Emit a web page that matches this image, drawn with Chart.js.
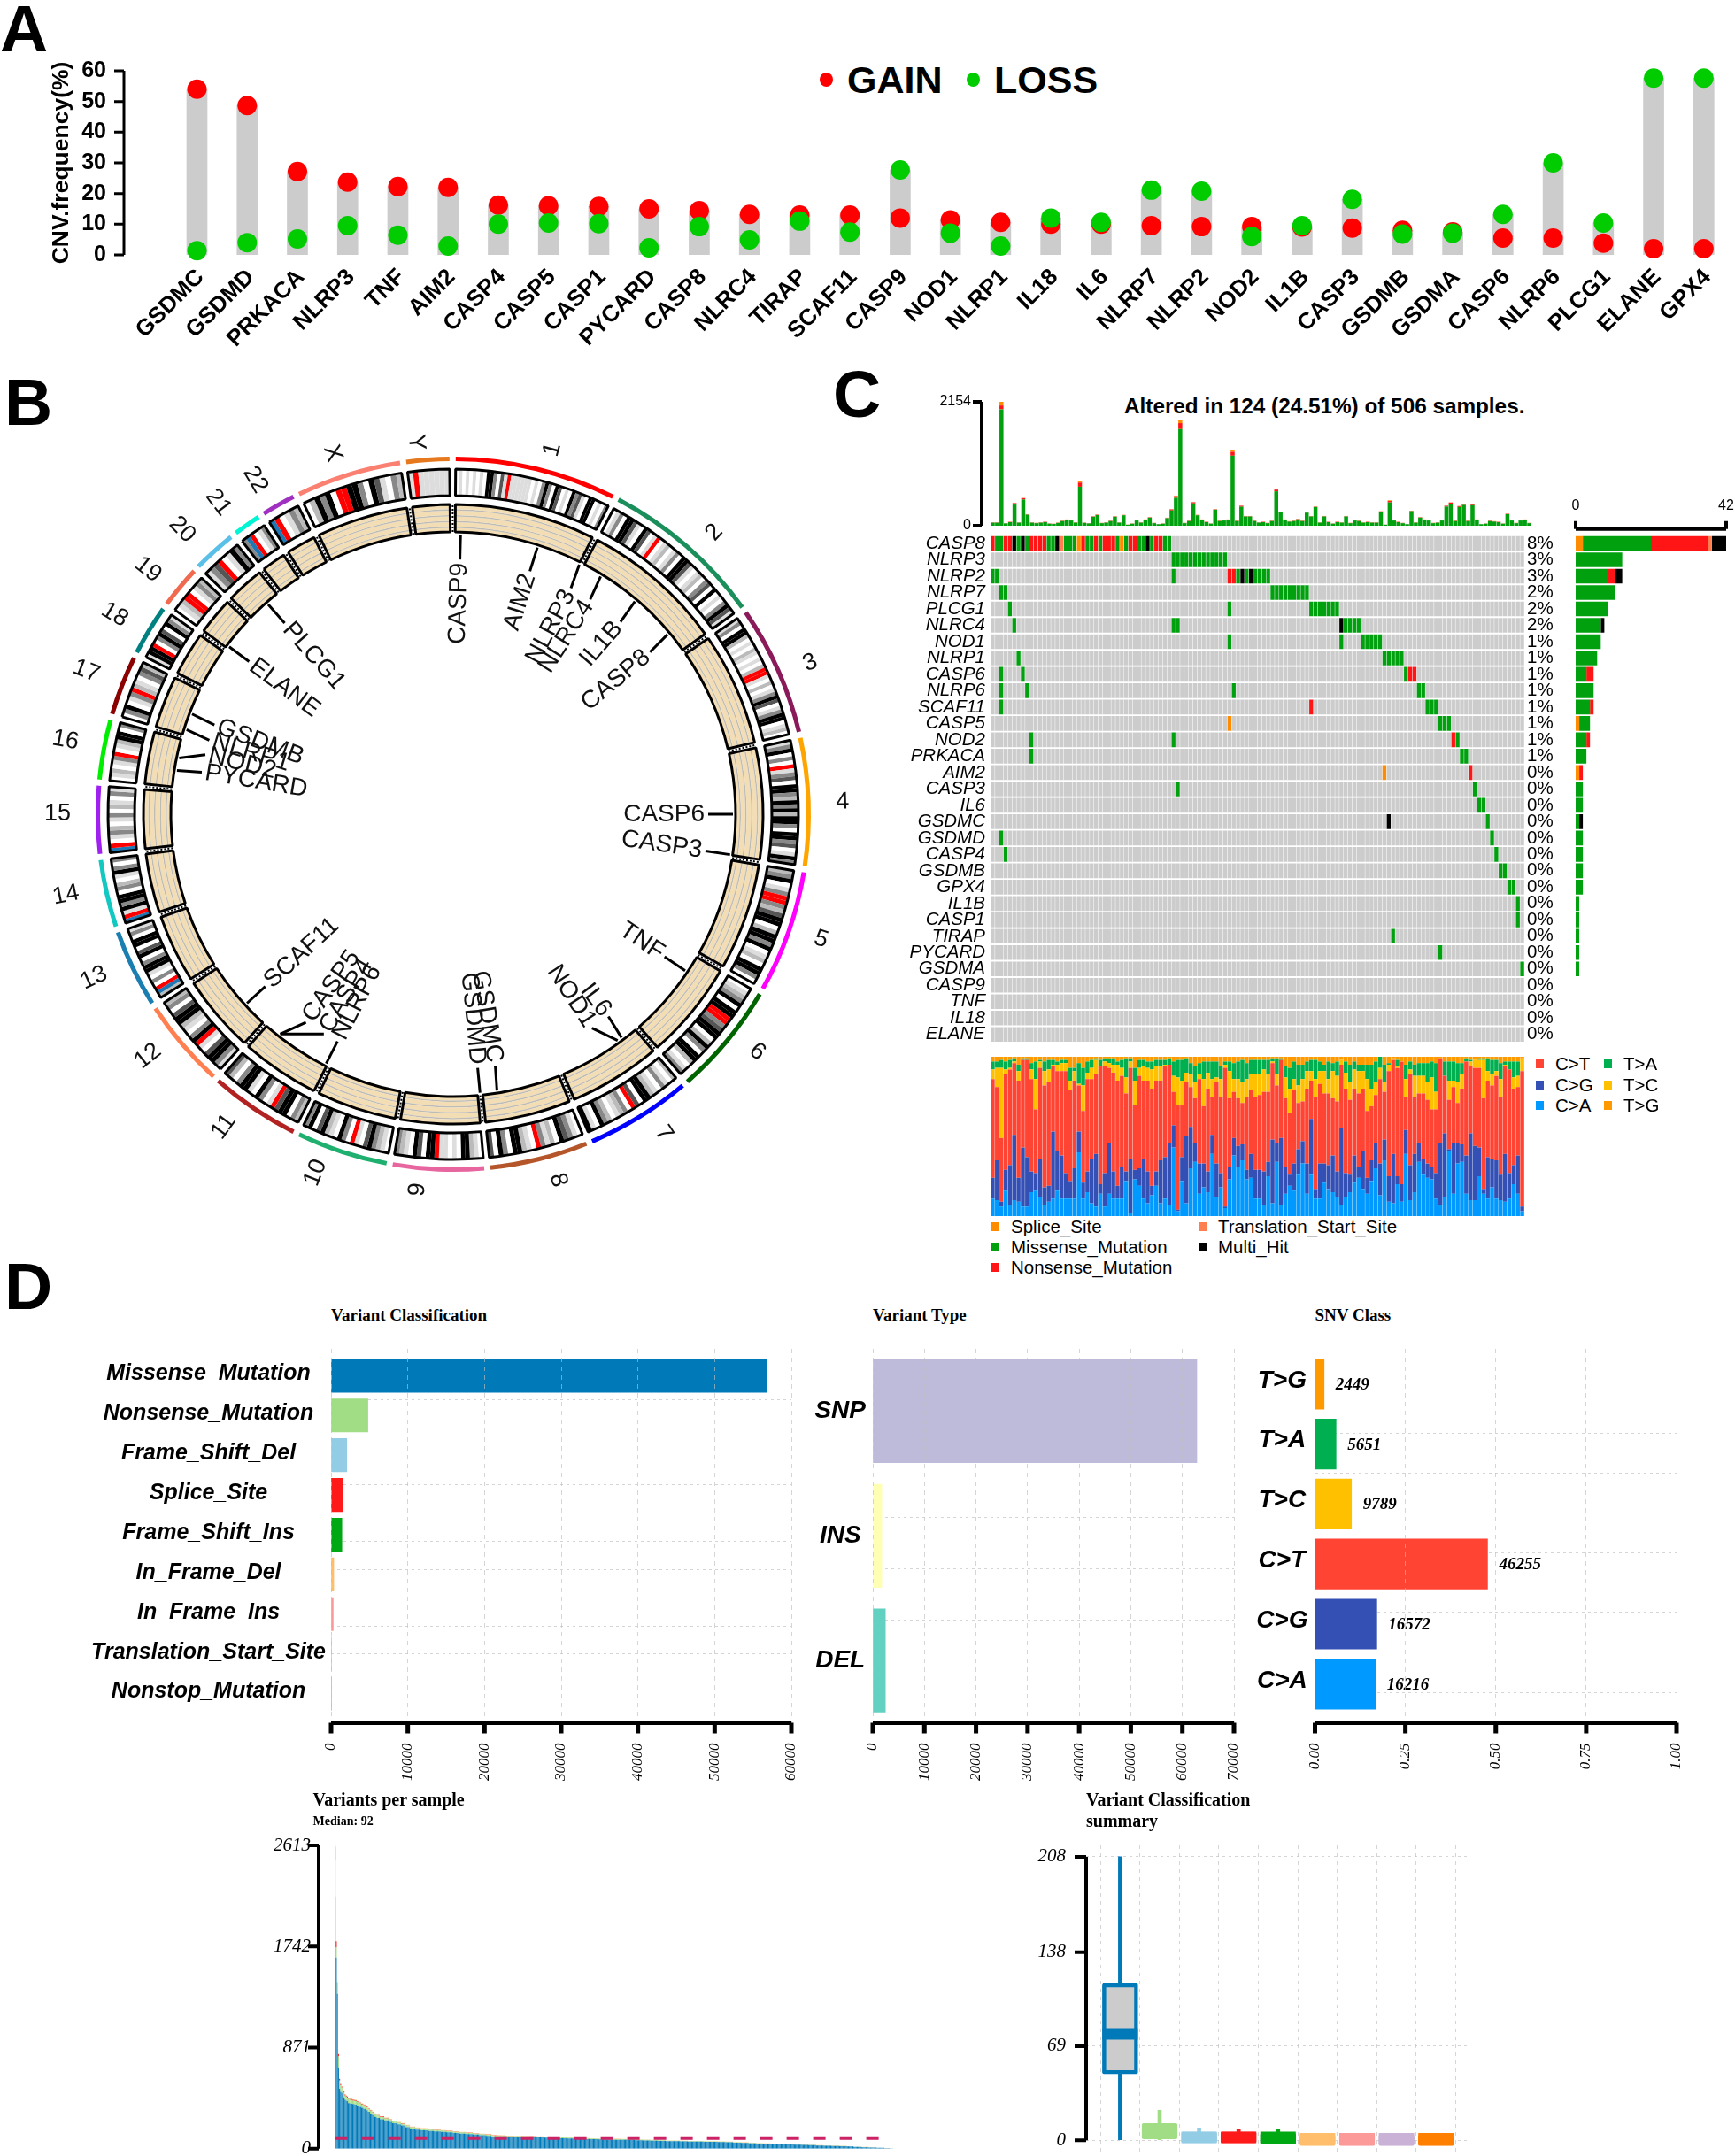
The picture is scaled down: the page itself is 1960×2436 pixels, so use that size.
<!DOCTYPE html>
<html>
<head>
<meta charset="utf-8">
<title>Pyroptosis gene alterations</title>
<script src="https://cdn.jsdelivr.net/npm/chart.js@4"></script>
<style>
  html, body { margin: 0; background: #fff; overflow: hidden; }
  body { position: relative; width: 1960px; height: 2436px; font-family: "Liberation Sans", sans-serif; color: #000; }
  canvas { position: absolute; }
  .txt { position: absolute; white-space: nowrap; transform: translateY(-50%); }
  .serif { font-family: "Liberation Serif", serif; font-weight: bold; }
  .sq { position: absolute; }
</style>
</head>
<body>
<script>
// Panel A: CNV frequency
const cnvGenes = ["GSDMC","GSDMD","PRKACA","NLRP3","TNF","AIM2","CASP4","CASP5","CASP1","PYCARD","CASP8","NLRC4","TIRAP","SCAF11","CASP9","NOD1","NLRP1","IL18","IL6","NLRP7","NLRP2","NOD2","IL1B","CASP3","GSDMB","GSDMA","CASP6","NLRP6","PLCG1","ELANE","GPX4"];
const cnvGain = [54,48.7,27.2,23.7,22.3,22,16.2,16,15.8,15,14.4,13.2,13,13,12,11.4,10.6,10,10,9.5,9.2,9.2,9.1,8.7,8,7.5,5.5,5.5,3.8,2,2];
const cnvLoss = [1.4,4,5.2,9.5,6.4,2.9,10,10.4,10.2,2.3,9.2,4.9,11,7.4,27.7,7.1,2.9,12,10.6,21.1,20.8,6,9.5,18.1,6.8,7.1,13.2,30,10.4,57.6,57.6];
const cnvTicks = [0,10,20,30,40,50,60];

// Panel B: circos
const chromNames = ["1","2","3","4","5","6","7","8","9","10","11","12","13","14","15","16","17","18","19","20","21","22","X","Y"];
const chromEnds = [27.3,55,77.2,99,120,139.4,157.6,174.6,190.4,206.3,222,237.5,251.2,263.2,275.2,286,296.7,305.9,313.8,321.9,327.4,333.9,352,360];
const chromLabelDeg = [15.2,42.8,67,88.2,108.8,128,146.6,164,185.4,201,216.3,231.6,245.5,258.2,270,280.8,291.3,300.5,308.7,316.4,323,329.4,341.5,354.3];
const chromLabelRadius = [427,434,438,440,439,436,432,430,426,434,438,440,446,447,447,446,445,444,442,444,441,439,430,422];
const chromColors = ["#FF0000","#1B8F5B","#8B1A5B","#FFA500","#FF00FF","#006400","#0000FF","#B5562A","#E766A0","#1FAF6E","#B22222","#FF7F50","#1A7FB0","#12C8C0","#A020F0","#00EE00","#8B0000","#008080","#F06A50","#5BC0E8","#00F5D4","#9F30C0","#FA8072","#E6781E"];
const chromBands = [
  "wlwlwlwlwkkgwdlRllllllwlwgkgwkdwlwkgdlwkkwlwg",
  "wlgwkkdlwkdwlRwlmwlgwkkdlwlmwgdwkwlwgkdl",
  "lgwkkmwlwmlwlwmRRlwmwlgkdwlgkkwlmw",
  "lgkwgwRlgdwkkgmkgkmkkgwkkgdwlkg",
  "mgkwlgRRgmdkkwmkkgkwlmwkkgw",
  "wlmgkwkkRRgdkkwmkgwkkmwlg",
  "mwlgwlmkkwdRwgmlwmgkwlk",
  "wlgdkwmlgRwlmkkwgkwd",
  "wlmkkwlwllRkkwdkwlmg",
  "wlmgkdwlRwgkwlmkdwkg",
  "mgwkkdRlwgkwlkkgwmd",
  "lgkkdwlRkgwlmkkdwgm",
  "mBRwgwlkkgwkdwkkwgl",
  "BRlkgkkwgmwlkgwg",
  "BRwlgmwlgwmlwgl",
  "wlmwlgRwlmkkwg",
  "wgkwlgRmlwgdm",
  "lkkRwgkdwkgl",
  "wlmRRwlgm",
  "lgdRwlkg",
  "gBRwlg",
  "BRwlgm",
  "wmkgkwRRkkgwkdlwgm",
  "lRllllll"
];
const bandColors = { w: "#FFFFFF", l: "#DDDDDD", m: "#BBBBBB", g: "#888888", d: "#555555", k: "#000000", R: "#FF0000", B: "#1F78B4" };
const geneNames = ["CASP9","AIM2","NLRP3","NLRC4","IL1B","CASP8","CASP6","CASP3","TNF","IL6","NOD1","GSDMC","GSDMD","NLRP6","CASP4","CASP5","SCAF11","PYCARD","NOD2","NLRP1","GSDMB","ELANE","PLCG1"];
const geneBase = [1.5,17.5,26.8,31.8,40.5,50,90,98.3,124,143,144,171,174.5,207,218.2,218.2,227.5,279,281.6,287.6,291,306.8,318.6];
const geneTip = [1.5,17.5,27.5,32.5,41,50.5,90,98.3,124,142.5,147,170.5,174.5,207,210.5,215.3,227.5,279.5,283.5,286.9,290.5,306.8,318.6];

// Panel C: oncoplot
const oncoGenes = ["CASP8","NLRP3","NLRP2","NLRP7","PLCG1","NLRC4","NOD1","NLRP1","CASP6","NLRP6","SCAF11","CASP5","NOD2","PRKACA","AIM2","CASP3","IL6","GSDMC","GSDMD","CASP4","GSDMB","GPX4","IL1B","CASP1","TIRAP","PYCARD","GSDMA","CASP9","TNF","IL18","ELANE"];
const oncoFreq = ["8%","3%","3%","2%","2%","2%","1%","1%","1%","1%","1%","1%","1%","1%","0%","0%","0%","0%","0%","0%","0%","0%","0%","0%","0%","0%","0%","0%","0%","0%","0%"];
const casp8Row = "RMMRRKMKMRRRRMMKTMMMORMMRMRRRMOMRRMMKMRRMM";
// [first sample, last sample, class] per gene
const oncoHits = {
  NLRP3: [[42,54,"M"]],
  NLRP2: [[0,1,"M"],[42,42,"M"],[55,56,"R"],[57,57,"M"],[58,58,"K"],[59,59,"M"],[60,60,"K"],[61,64,"M"]],
  NLRP7: [[2,3,"M"],[65,73,"M"]],
  PLCG1: [[4,4,"M"],[55,55,"M"],[74,80,"M"]],
  NLRC4: [[5,5,"M"],[42,43,"M"],[81,81,"K"],[82,85,"M"]],
  NOD1: [[55,55,"M"],[81,81,"M"],[86,90,"M"]],
  NLRP1: [[6,6,"M"],[91,95,"M"]],
  CASP6: [[2,2,"M"],[7,7,"M"],[96,96,"M"],[97,98,"R"]],
  NLRP6: [[2,2,"M"],[8,8,"M"],[56,56,"M"],[99,100,"M"]],
  SCAF11: [[2,2,"M"],[74,74,"R"],[101,103,"M"]],
  CASP5: [[55,55,"O"],[104,106,"M"]],
  NOD2: [[9,9,"M"],[42,42,"M"],[107,107,"R"],[108,108,"M"]],
  PRKACA: [[9,9,"M"],[109,110,"M"]],
  AIM2: [[91,91,"O"],[111,111,"R"]],
  CASP3: [[43,43,"M"],[112,112,"M"]],
  IL6: [[113,114,"M"]],
  GSDMC: [[92,92,"K"],[115,115,"M"]],
  GSDMD: [[2,2,"M"],[116,116,"M"]],
  CASP4: [[3,3,"M"],[117,117,"M"]],
  GSDMB: [[118,119,"M"]],
  GPX4: [[120,121,"M"]],
  IL1B: [[122,122,"M"]],
  CASP1: [[122,122,"M"]],
  TIRAP: [[93,93,"M"]],
  PYCARD: [[104,104,"M"]],
  GSDMA: [[123,123,"M"]]
};
const hitColors = { M: "#00A00F", R: "#FF1515", K: "#000000", O: "#FF8C00", T: "#FF7F50" };
const topTotal = [60,60,2154,45,70,396,60,483,200,60,50,60,70,40,35,55,90,110,100,60,776,55,45,165,195,50,60,90,165,60,190,20,40,100,60,110,150,50,30,40,140,288,524,1835,50,90,411,190,110,70,40,288,90,100,110,1311,90,350,170,170,90,60,70,50,90,643,240,110,80,90,120,90,236,170,334,60,170,70,40,70,60,170,50,100,90,60,70,60,60,252,20,442,100,70,50,30,262,60,150,110,100,50,60,100,350,406,90,344,380,90,375,110,30,40,90,80,70,40,210,100,50,100,110,50];
const topRed = { 2: 65, 5: 25, 7: 25, 20: 72, 41: 20, 42: 30, 43: 103, 46: 20, 55: 67, 57: 18, 65: 30, 89: 15, 91: 25, 104: 15, 105: 18, 107: 15, 108: 15, 110: 15 };
const topOrange = { 2: 64, 20: 26, 42: 10, 43: 51, 55: 26, 65: 15, 91: 12 };
const topTicks = [0,2154];
const sideSplice = [2,0,0,0,0,0,0,0,0,0,0,1,0,0,1,0,0,0,0,0,0,0,0,0,0,0,0,0,0,0,0];
const sideMissense = [19,13,9,11,9,7,7,6,3,5,4,3,3,3,0,2,2,1,2,2,2,2,1,1,1,1,1,0,0,0,0];
const sideNonsense = [16,0,2,0,0,0,0,0,2,0,1,0,1,0,1,0,0,0,0,0,0,0,0,0,0,0,0,0,0,0,0];
const sideStart = [1,0,0,0,0,0,0,0,0,0,0,0,0,0,0,0,0,0,0,0,0,0,0,0,0,0,0,0,0,0,0];
const sideMulti = [4,0,2,0,0,1,0,0,0,0,0,0,0,0,0,0,0,1,0,0,0,0,0,0,0,0,0,0,0,0,0];
const sideTicks = [0,42];

// Ti/Tv stack, cumulative percent at the top of each class
const titvCA = [11,10,6,16,7,10,9,6,6,15,16,12,7,9,11,16,11,11,11,11,40,11,15,8,6,14,6,14,11,11,11,22,2,23,19,11,8,13,19,8,11,7,43,3,22,8,30,34,14,18,15,39,12,18,5,23,38,31,35,23,24,11,11,7,25,8,34,7,14,19,16,26,33,14,26,11,11,21,17,15,12,7,12,15,21,24,17,14,22,30,13,35,9,8,20,9,39,10,15,34,26,24,23,11,7,12,41,14,33,34,14,10,10,25,14,11,18,11,10,9,11,20,14,3];
const titvCG = [24,35,9,29,32,51,24,43,37,28,27,36,18,19,53,41,38,27,22,30,53,21,28,36,39,20,27,46,28,19,31,28,36,29,30,36,28,19,28,35,37,46,57,4,37,50,56,46,33,33,28,51,33,27,6,31,49,44,45,29,39,29,29,28,34,48,46,49,31,26,33,42,47,33,61,17,33,33,32,38,28,55,27,26,38,31,41,24,35,46,33,48,25,39,25,20,54,32,39,46,36,33,31,27,46,52,42,46,46,45,38,52,44,43,17,37,36,35,26,39,27,32,38,6];
const titvCT = [86,81,49,89,92,96,85,98,98,86,67,93,82,84,94,91,91,91,79,85,82,66,86,86,89,94,94,93,90,85,88,77,93,70,88,85,85,80,85,85,94,95,78,70,70,84,81,74,86,69,80,75,84,75,93,74,78,74,71,75,79,75,76,78,78,96,82,98,74,65,79,71,72,80,85,75,83,77,77,74,72,95,80,73,80,77,80,66,69,76,86,78,91,98,93,97,75,89,75,77,77,73,67,67,99,88,73,81,71,80,97,94,93,93,74,85,82,88,75,94,92,80,81,91];
const titvTC = [92,93,93,92,93,97,91,98,98,92,86,97,91,92,95,95,96,96,85,91,83,82,90,93,98,94,97,96,95,95,93,87,97,85,93,94,93,92,94,94,95,95,88,87,85,90,89,84,89,86,90,86,87,86,95,91,86,86,84,86,89,89,89,92,89,97,89,98,87,80,86,82,86,91,91,86,91,91,86,91,88,98,90,84,92,91,91,86,80,84,93,84,95,99,94,97,86,92,88,88,88,84,87,78,99,88,85,85,84,89,97,97,98,98,98,91,89,91,86,95,92,87,88,99];
const titvTA = [97,97,98,97,98,99,95,99,99,96,97,98,97,98,98,97,98,98,93,93,96,93,97,98,99,98,99,99,99,97,98,99,99,93,98,98,97,97,98,98,98,99,97,98,98,99,96,94,96,97,97,97,97,94,97,97,96,97,98,96,98,98,98,98,98,99,99,99,94,93,97,95,95,97,98,98,97,95,97,96,97,98,97,95,97,95,95,95,95,97,100,95,96,99,98,97,95,97,95,96,96,96,97,96,99,97,97,97,96,96,99,98,98,99,99,99,98,98,96,97,97,97,97,99];

// Panel D: summaries
const classNames = ["Missense_Mutation","Nonsense_Mutation","Frame_Shift_Del","Splice_Site","Frame_Shift_Ins","In_Frame_Del","In_Frame_Ins","Translation_Start_Site","Nonstop_Mutation"];
const classCounts = [56800,4800,2050,1480,1410,350,280,60,60];
const classColors = ["#0079B8","#A1DD85","#92CDE5","#FF1A1A","#00A814","#FFBE6B","#FB9A99","#CAB2D6","#FF9A3C"];
const classTicks = [0,10000,20000,30000,40000,50000,60000];
const classRules = [0.208,0.474,0.562,0.649,0.737,0.825,0.913];
const typeNames = ["SNP","INS","DEL"];
const typeCounts = [62800,1740,2430];
const typeColors = ["#BEBADA","#FFFFB3","#62D1C2"];
const typeTicks = [0,10000,20000,30000,40000,50000,60000,70000];
const typeRules = [0.537,0.812];
const snvNames = ["T>G","T>A","T>C","C>T","C>G","C>A"];
const snvCounts = [2449,5651,9789,46255,16572,16216];
const snvColors = ["#FF9900","#00B050","#FFC000","#FF4433","#3450B5","#0099FF"];
const snvTicks = [0,0.25,0.5,0.75,1];
const snvTickLabels = ["0.00","0.25","0.50","0.75","1.00"];
const snvRules = [0.223,0.356,0.489,0.622,0.89];

// variants per sample, as levels and the number of samples on each level
const tmbLevels = [2613,1787,1436,816,605,560,540,520,495,470,460,452,440,430,425,420,410,400,390,380,365,350,335,320,305,292,280,268,255,241,230,220,205,190,182,176,170,165,160,155,150,145,140,135,130,125,117,115,113,112,110,109,107,104,102,100,97,94,92,90,88,86,85,84,82,80,78,76,74,71,70,68,67,66,65,64,62,60,57,54,51,48,46,44,42,40,38,36,34,31,29,26,24,20,17,14,11,8,5,2];
const tmbRuns = [1,1,1,1,1,1,1,1,1,1,1,1,2,2,2,2,2,2,2,2,2,2,2,2,2,3,4,4,3,4,4,4,4,5,5,6,6,6,5,6,6,6,6,6,6,5,6,7,7,7,7,7,7,7,7,7,7,6,7,7,7,7,7,6,7,7,7,7,7,6,7,7,7,7,7,6,7,7,7,7,7,6,7,7,7,7,7,6,7,7,7,7,7,6,7,7,7,7,5,3];
const tmbNonsense = [59,89,102,100,70,55,45,45,40,35,35,30,35,32,30,30,30,30,28,28,26,25,25,22,22,20,20,18,18,16,15,14,14,13,13,12,12,11,11,10,10,10,9,9,9,9,9,8,8,8,8,8,7,7,7,7,7,7,7,6,6,6,6,6,5,5,5,5,5,5,4,4,4,4,4,3,3,3,3,3,3,3,3,3,2,2,2,2,2,2,2,2,1,1,1,1,0,0,0,0];
const tmbSplice = [51,51,0,22,14,12,10,10,9,9,8,8,8,7,7,7,6,6,6,6,5,5,5,5,5,4,4,4,4,4,3,3,3,3,3,3,3,2,2,2,2,2,2,2,2,2,2,2,1,1,1,1];
const tmbInFrame = [13,0,0,0,4,4,4,4,4,4,4,4,4,4,4,4,4,4,4,4,3,3,3,3,3,3,3,3,3,3,3,3,3,3,3,3,3,3,3,3,3,3,3,3,3,3,3,3,3,3,3,3,3,3,3,3,3,3,3,3,3,3,3,3,2,2,2,2,2,2,2,2,2,2,2,2,2,2,2,2,2,2,2,2,2,2,2,2,2,2,2,2,2,1,1,1,1,1,1,1];
const tmbFsDel = [254];
const tmbFsIns = [63];
const tmbMedian = 92;
const tmbTicks = [0,871,1742,2613];

const boxLow = [0,0,0,0,0,0,0,0,0];
const boxQ1 = [48.7,1,-2,-2,-3,-4,-4,-4,-4];
const boxMedian = [78,6,2,2,2,1,1,1,1];
const boxQ3 = [115,12.3,6,6,5,4,4,4,4];
const boxHigh = [208,22,9,8,8,4,4,4,4];
const boxFill = ["#CCCCCC","#A1DD85","#92CDE5","#FF1A1A","#00A814","#FFBE6B","#FB9A99","#CAB2D6","#FF7F00"];
const boxStroke = ["#0079B8","#A1DD85","#92CDE5","#FF1A1A","#00A814","#FFBE6B","#FB9A99","#CAB2D6","#FF7F00"];
const boxTicks = [0,69,138,208];

Chart.defaults.animation = false;
Chart.defaults.responsive = false;
Chart.defaults.devicePixelRatio = 1;
Chart.defaults.color = "#000";
Chart.defaults.font.family = "'Liberation Sans', sans-serif";
Chart.defaults.layout.autoPadding = false;
Chart.defaults.plugins.legend.display = false;
Chart.defaults.plugins.tooltip.enabled = false;

// R style axis: the line only runs between the first and last tick
const blackAxis = {
  id: "blackAxis",
  afterDraw(chart, args, opts) {
    if (!opts || !opts.scale) return;
    const s = chart.scales[opts.scale];
    const area = chart.chartArea;
    const ctx = chart.ctx;
    const gap = opts.gap || 0;
    const vals = s.ticks.map((t) => t.value);
    const a = s.getPixelForValue(Math.min(...vals));
    const b = s.getPixelForValue(Math.max(...vals));
    ctx.save();
    ctx.strokeStyle = "#000";
    ctx.lineWidth = opts.width;
    ctx.beginPath();
    if (s.axis === "y") {
      const x = area.left - gap;
      ctx.moveTo(x, a);
      ctx.lineTo(x, b);
      vals.forEach((v) => {
        const p = s.getPixelForValue(v);
        ctx.moveTo(x, p);
        ctx.lineTo(x - opts.tick, p);
      });
    } else {
      const up = opts.up ? -1 : 1;
      const y = (opts.up ? area.top - gap : area.bottom + gap);
      ctx.moveTo(a, y);
      ctx.lineTo(b, y);
      vals.forEach((v) => {
        const p = s.getPixelForValue(v);
        ctx.moveTo(p, y);
        ctx.lineTo(p, y + up * opts.tick);
      });
    }
    ctx.stroke();
    ctx.restore();
  },
};
Chart.register(blackAxis);

const noPad = (s) => { s.paddingTop = s.paddingBottom = s.paddingLeft = s.paddingRight = 0; };
const pinW = (w) => (s) => { s.width = w; noPad(s); };
const pinH = (h) => (s) => { s.height = h; noPad(s); };
const setTicks = (list) => (s) => { s.ticks = list.map((v) => ({ value: v })); };
const noAxisLine = { display: false };
const noGrid = { display: false, drawTicks: false };
const plainNumber = (v) => String(v);

function makeCanvas(left, top, width, height) {
  const c = document.createElement("canvas");
  c.width = width;
  c.height = height;
  c.style.left = left + "px";
  c.style.top = top + "px";
  document.body.appendChild(c);
  return c;
}
function addText(x, y, str, css, cls) {
  const d = document.createElement("div");
  d.className = "txt " + (cls || "");
  d.style.cssText = `left:${x}px;top:${y}px;` + css;
  d.textContent = str;
  document.body.appendChild(d);
}
function addSquare(x, y, w, h, color, round) {
  const d = document.createElement("div");
  d.className = "sq";
  d.style.cssText = `left:${x}px;top:${y - h / 2}px;width:${w}px;height:${h}px;background:${color};` + (round ? "border-radius:50%;" : "");
  document.body.appendChild(d);
}

// Panel letters
const letterCss = "font-size:75px;font-weight:bold;";
addText(0, 32, "A", letterCss);
addText(5, 454, "B", letterCss);
addText(941, 445, "C", letterCss);
addText(5, 1453, "D", letterCss);

// Chart A: CNV lollipop
addSquare(926, 90, 15, 16, "#FF0000", true);
addText(957, 90, "GAIN", "font-size:43px;font-weight:bold;");
addSquare(1092, 90, 15, 16, "#00CC00", true);
addText(1123, 90, "LOSS", "font-size:43px;font-weight:bold;");
new Chart(makeCanvas(54, 60, 1906, 370), {
  type: "bar",
  data: {
    datasets: [
      {
        data: cnvGenes.map((g, i) => ({ x: i, y: Math.max(cnvGain[i], cnvLoss[i]) })),
        backgroundColor: "#CCCCCC",
        barThickness: 23,
        order: 3,
      },
      {
        type: "line",
        showLine: false,
        clip: false,
        data: cnvGain.map((v, i) => ({ x: i, y: v })),
        pointRadius: 11,
        pointBorderWidth: 0,
        pointBackgroundColor: "#FF0000",
        order: 2,
      },
      {
        type: "line",
        showLine: false,
        clip: false,
        data: cnvLoss.map((v, i) => ({ x: i, y: v })),
        pointRadius: 11,
        pointBorderWidth: 0,
        pointBackgroundColor: "#00CC00",
        order: 1,
      },
    ],
  },
  options: {
    layout: { padding: { top: 20 } },
    plugins: { blackAxis: { scale: "y", width: 3, tick: 11 } },
    scales: {
      x: {
        type: "linear",
        offset: false,
        min: -1.454,
        max: 30.62,
        grid: noGrid,
        border: noAxisLine,
        afterBuildTicks: setTicks(cnvGenes.map((g, i) => i)),
        afterFit: pinH(142),
        ticks: {
          autoSkip: false,
          minRotation: 45,
          maxRotation: 45,
          padding: 10,
          labelOffset: 4,
          font: { size: 26, weight: "bold" },
          callback: (v) => cnvGenes[v],
        },
      },
      y: {
        min: 0,
        max: 60,
        grid: noGrid,
        border: noAxisLine,
        afterBuildTicks: setTicks(cnvTicks),
        afterFit: pinW(86),
        title: { display: true, text: "CNV.frequency(%)", font: { size: 26.5, weight: "bold" }, padding: 0 },
        ticks: { padding: 20, font: { size: 25, weight: "bold" } },
      },
    },
  },
});

// Chart B: circos rings, every ring is a doughnut dataset
const chromSpans = [];
const circosGap = 1;
chromEnds.forEach((end, i) => {
  chromSpans.push(end - (i ? chromEnds[i - 1] : 0) - circosGap);
});
const clear = "rgba(0,0,0,0)";
function ringData(spans) {
  const data = [];
  spans.forEach((s) => { data.push(s, circosGap); });
  return data;
}
const ringColors = (colorOf) => {
  const out = [];
  chromSpans.forEach((s, i) => { out.push(colorOf(i), clear); });
  return out;
};
const bandData = [];
const bandFill = [];
chromSpans.forEach((s, i) => {
  const codes = chromBands[i];
  for (const code of codes) {
    bandData.push(s / codes.length);
    bandFill.push(bandColors[code]);
  }
  bandData.push(circosGap);
  bandFill.push(clear);
});
const tanRing = (w) => ({ data: ringData(chromSpans), backgroundColor: ringColors(() => "#F3DDB5"), borderWidth: 0, weight: w });
const lineRing = (w) => ({ data: ringData(chromSpans), backgroundColor: ringColors(() => "#BDBBB6"), borderWidth: 0, weight: w });
const spacerRing = (w) => ({ data: [1], backgroundColor: [clear], borderWidth: 0, weight: w });
const circosCutout = "78.96%";

const circosLabels = {
  id: "circosLabels",
  afterDraw(chart) {
    const ctx = chart.ctx;
    const cx = (chart.chartArea.left + chart.chartArea.right) / 2;
    const cy = (chart.chartArea.top + chart.chartArea.bottom) / 2;
    const at = (deg, r) => {
      const t = (deg * Math.PI) / 180;
      return [cx + r * Math.sin(t), cy - r * Math.cos(t)];
    };
    ctx.save();
    // dotted chromosome joins in the inner track
    ctx.strokeStyle = "#000";
    ctx.lineWidth = 2;
    ctx.setLineDash([2, 2]);
    chromEnds.forEach((end) => {
      const a = at(end - circosGap / 2 + 0.4, 319);
      const b = at(end - circosGap / 2 + 0.4, 350);
      ctx.beginPath();
      ctx.moveTo(a[0], a[1]);
      ctx.lineTo(b[0], b[1]);
      ctx.stroke();
    });
    ctx.setLineDash([]);
    ctx.fillStyle = "#111";
    // chromosome names
    ctx.font = "27px 'Liberation Sans'";
    ctx.textAlign = "center";
    ctx.textBaseline = "middle";
    chromNames.forEach((name, i) => {
      const deg = chromLabelDeg[i];
      const p = at(deg, chromLabelRadius[i]);
      ctx.save();
      ctx.translate(p[0], p[1]);
      ctx.rotate((((deg < 180 ? deg - 90 : deg - 270)) * Math.PI) / 180);
      ctx.fillText(name, 0, 0);
      ctx.restore();
    });
    // gene labels and their leads
    ctx.font = "28px 'Liberation Sans'";
    ctx.strokeStyle = "#000";
    ctx.lineWidth = 3;
    geneNames.forEach((name, i) => {
      const a = at(geneBase[i], 316);
      const b = at(geneTip[i], 288);
      ctx.beginPath();
      ctx.moveTo(a[0], a[1]);
      ctx.lineTo(b[0], b[1]);
      ctx.stroke();
      const tip = geneTip[i];
      const p = at(tip, 284);
      ctx.save();
      ctx.translate(p[0], p[1]);
      ctx.rotate((((tip < 180 ? tip - 90 : tip - 270)) * Math.PI) / 180);
      ctx.textAlign = tip < 180 ? "right" : "left";
      ctx.fillText(name, 0, 0);
      ctx.restore();
    });
    ctx.restore();
  },
};
new Chart(makeCanvas(42, 450, 940, 940), {
  type: "doughnut",
  data: {
    datasets: [
      { data: ringData(chromSpans), backgroundColor: ringColors((i) => chromColors[i]), borderWidth: 0, weight: 5 },
      spacerRing(9),
      { data: bandData, backgroundColor: bandFill, borderWidth: 0, weight: 30 },
      spacerRing(10),
      tanRing(5), lineRing(1.5), tanRing(5), lineRing(1.5), tanRing(5), lineRing(1.5), tanRing(5), lineRing(1.5), tanRing(4.5),
    ],
  },
  options: { radius: 404, cutout: circosCutout, rotation: 0.4 },
  plugins: [circosLabels],
});
// black outlines of the two tracks
const outlineRing = (w) => ({
  data: ringData(chromSpans),
  backgroundColor: clear,
  borderColor: ringColors(() => "#000"),
  borderWidth: ringColors(() => 3).map((c) => (c === clear ? 0 : 3)),
  weight: w,
});
new Chart(makeCanvas(42, 450, 940, 940), {
  type: "doughnut",
  data: { datasets: [spacerRing(14), outlineRing(30), spacerRing(10), outlineRing(31)] },
  options: { radius: 404, cutout: circosCutout, rotation: 0.4 },
});

// Chart C: oncoplot
const sampleIds = topTotal.map((v, i) => i);
addText(1270, 459, "Altered in 124 (24.51%) of 506 samples.", "font-size:24.3px;font-weight:bold;");
new Chart(makeCanvas(1040, 440, 690, 160), {
  type: "bar",
  data: {
    labels: sampleIds,
    datasets: [
      { data: topTotal.map((v, i) => v - (topRed[i] || Math.min(6, v * 0.08)) - (topOrange[i] || Math.min(3, v * 0.04))), backgroundColor: hitColors.M },
      { data: topTotal.map((v, i) => topRed[i] || Math.min(6, v * 0.08)), backgroundColor: hitColors.R },
      { data: topTotal.map((v, i) => topOrange[i] || Math.min(3, v * 0.04)), backgroundColor: hitColors.O },
    ],
  },
  options: {
    layout: { padding: { top: 14, bottom: 6 } },
    datasets: { bar: { categoryPercentage: 1, barPercentage: 0.92 } },
    plugins: { blackAxis: { scale: "y", gap: 10, width: 4, tick: 10 } },
    scales: {
      x: { display: false, stacked: true, afterFit: pinH(0) },
      y: {
        stacked: true,
        min: 0,
        max: 2154,
        grid: noGrid,
        border: noAxisLine,
        afterBuildTicks: setTicks(topTicks),
        afterFit: pinW(79),
        ticks: { padding: 22, font: { size: 16 }, callback: plainNumber },
      },
    },
  },
});

// one overlaid dataset per gene, coloured per sample
const rowColors = (gene) => {
  const row = sampleIds.map(() => "#CCCCCC");
  if (gene === "CASP8") {
    for (let i = 0; i < casp8Row.length; i++) row[i] = hitColors[casp8Row[i]];
  }
  (oncoHits[gene] || []).forEach(([from, to, kind]) => {
    for (let i = from; i <= to; i++) row[i] = hitColors[kind];
  });
  return row;
};
const rowTicks = oncoGenes.map((g, i) => i);
new Chart(makeCanvas(1000, 600, 790, 580), {
  type: "bar",
  data: {
    labels: sampleIds,
    datasets: oncoGenes.map((gene, r) => ({
      data: sampleIds.map(() => [r - 0.45, r + 0.45]),
      backgroundColor: rowColors(gene),
      grouped: false,
      categoryPercentage: 1,
      barPercentage: 0.9,
    })),
  },
  options: {
    layout: { padding: { top: 4.75, bottom: 2 } },
    scales: {
      x: { display: false, afterFit: pinH(0) },
      y: {
        min: -0.5,
        max: 30.5,
        reverse: true,
        grid: noGrid,
        border: noAxisLine,
        afterBuildTicks: setTicks(rowTicks),
        afterFit: pinW(119),
        ticks: { autoSkip: false, padding: 6, font: { size: 20.5, style: "italic" }, callback: (v) => oncoGenes[v] },
      },
      yFreq: {
        position: "right",
        min: -0.5,
        max: 30.5,
        reverse: true,
        grid: noGrid,
        border: noAxisLine,
        afterBuildTicks: setTicks(rowTicks),
        afterFit: pinW(68),
        ticks: { autoSkip: false, padding: 3, font: { size: 20.5 }, callback: (v) => oncoFreq[v] },
      },
    },
  },
});

// side bars
new Chart(makeCanvas(1775, 540, 185, 640), {
  type: "bar",
  data: {
    labels: oncoGenes,
    datasets: [
      { data: sideSplice, backgroundColor: hitColors.O },
      { data: sideMissense, backgroundColor: hitColors.M },
      { data: sideNonsense, backgroundColor: hitColors.R },
      { data: sideStart, backgroundColor: hitColors.T },
      { data: sideMulti, backgroundColor: hitColors.K },
    ],
  },
  options: {
    indexAxis: "y",
    layout: { padding: { left: 5, right: 10, bottom: 2 } },
    datasets: { bar: { categoryPercentage: 1, barPercentage: 0.9 } },
    plugins: { blackAxis: { scale: "x", gap: 7, width: 4, tick: 9, up: true } },
    scales: {
      x: {
        position: "top",
        stacked: true,
        min: 0,
        max: 42,
        grid: noGrid,
        border: noAxisLine,
        afterBuildTicks: setTicks(sideTicks),
        afterFit: pinH(64.75),
        ticks: { padding: 24, maxRotation: 0, font: { size: 16 }, callback: plainNumber },
      },
      y: { display: false, stacked: true, afterFit: pinW(0) },
    },
  },
});

// Ti/Tv fractions, each class floats on the one below it
const titvBand = (low, high, color) => ({
  data: sampleIds.map((i) => [low ? low[i] : 0, high ? high[i] : 100]),
  backgroundColor: color,
  grouped: false,
  categoryPercentage: 1,
  barPercentage: 0.93,
});
new Chart(makeCanvas(1119, 1194, 603, 180), {
  type: "bar",
  data: {
    labels: sampleIds,
    datasets: [
      titvBand(null, titvCA, "#0099FF"),
      titvBand(titvCA, titvCG, "#3450B5"),
      titvBand(titvCG, titvCT, "#FF4433"),
      titvBand(titvCT, titvTC, "#FFC000"),
      titvBand(titvTC, titvTA, "#00B050"),
      titvBand(titvTA, null, "#FF9900"),
    ],
  },
  options: {
    scales: {
      x: { display: false, afterFit: pinH(0) },
      y: { display: false, min: 0, max: 100, afterFit: pinW(0) },
    },
  },
});
const titvKeyNames = ["C>T","C>G","C>A","T>A","T>C","T>G"];
const titvKeyColors = ["#FF4433","#3450B5","#0099FF","#00B050","#FFC000","#FF9900"];
titvKeyNames.forEach((name, i) => {
  const col = i < 3 ? 0 : 1;
  const y = 1202 + (i % 3) * 23.5;
  addSquare(1735 + col * 77, y, 9, 10, titvKeyColors[i]);
  addText(1757 + col * 77, y, name, "font-size:20.5px;");
});
const mutKeyNames = ["Splice_Site","Missense_Mutation","Nonsense_Mutation","Translation_Start_Site","Multi_Hit"];
const mutKeyColors = [hitColors.O, hitColors.M, hitColors.R, hitColors.T, hitColors.K];
mutKeyNames.forEach((name, i) => {
  const col = i < 3 ? 0 : 1;
  const y = 1386 + (i < 3 ? i : i - 3) * 23;
  addSquare(1119 + col * 235, y, 10, 10, mutKeyColors[i]);
  addText(1142 + col * 234, y, name, "font-size:20.5px;");
});

// Chart D: the three summary bars share this layout
const dashedGrid = "rgba(190,190,190,0.65)";
const valueFont = { family: "'Liberation Serif', serif", size: 17, style: "italic" };
function summaryBars(opts) {
  return new Chart(makeCanvas(opts.left, 1510, opts.width, 520), {
    type: "bar",
    data: {
      datasets: [
        {
          data: opts.values.map((v, i) => ({ x: v, y: i })),
          backgroundColor: opts.colors,
          barThickness: opts.thick,
        },
      ],
    },
    options: {
      indexAxis: "y",
      layout: { padding: { top: 14, right: opts.right } },
      plugins: { blackAxis: { scale: "x", width: 5, tick: 12 } },
      scales: {
        x: {
          min: opts.ticks[0],
          max: opts.ticks[opts.ticks.length - 1],
          grid: { color: dashedGrid, drawTicks: false, z: 1 },
          border: { display: false, dash: [5, 5] },
          afterBuildTicks: setTicks(opts.ticks),
          afterFit: pinH(83.4),
          ticks: {
            autoSkip: false,
            minRotation: 90,
            maxRotation: 90,
            padding: 23,
            font: valueFont,
            callback: opts.tickText || plainNumber,
          },
        },
        y: {
          type: "linear",
          offset: false,
          min: opts.yMin,
          max: opts.yMax,
          reverse: true,
          grid: noGrid,
          border: noAxisLine,
          afterBuildTicks: setTicks(opts.names.map((n, i) => i)),
          afterFit: pinW(opts.axisW),
          ticks: {
            autoSkip: false,
            crossAlign: "center",
            padding: opts.pad,
            labelOffset: opts.shift,
            font: { size: opts.font, weight: "bold", style: "italic" },
            callback: (v) => opts.names[v],
          },
        },
        rules: {
          type: "linear",
          position: "left",
          min: 0,
          max: 1,
          reverse: true,
          grid: { color: dashedGrid, drawTicks: false },
          border: { display: false, dash: [3, 4] },
          afterBuildTicks: setTicks(opts.rules),
          afterFit: pinW(0),
          ticks: { display: false },
        },
      },
    },
    plugins: opts.plugins || [],
  });
}

addText(374, 1486, "Variant Classification", "font-size:19px;", "serif");
addText(986, 1486, "Variant Type", "font-size:19px;", "serif");
addText(1485.5, 1486, "SNV Class", "font-size:19px;", "serif");

summaryBars({
  left: 90, width: 820, right: 16, values: classCounts, names: classNames, colors: classColors, ticks: classTicks,
  rules: classRules, thick: 37.5, yMin: -0.677, yMax: 8.736, axisW: 284, pad: 6, shift: -2, font: 25,
});
summaryBars({
  left: 900, width: 510, right: 16, values: typeCounts, names: typeNames, colors: typeColors, ticks: typeTicks,
  rules: typeRules, thick: 116.5, yMin: -0.5, yMax: 2.5, axisW: 86, pad: 8, shift: 0, font: 28,
});
const snvTotal = snvCounts.reduce((a, b) => a + b, 0);
const snvValueLabels = {
  id: "snvValueLabels",
  afterDatasetsDraw(chart) {
    const ctx = chart.ctx;
    const bars = chart.getDatasetMeta(0).data;
    ctx.save();
    ctx.font = "italic bold 19px 'Liberation Serif'";
    ctx.fillStyle = "#000";
    ctx.textBaseline = "middle";
    bars.forEach((bar, i) => ctx.fillText(String(snvCounts[i]), bar.x + 13, bar.y + 1));
    ctx.restore();
  },
};
summaryBars({
  left: 1410, width: 510, right: 26, values: snvCounts.map((c) => c / snvTotal), names: snvNames, colors: snvColors, ticks: snvTicks,
  rules: snvRules, thick: 56.5, yMin: -0.587, yMax: 5.646, axisW: 75.5, pad: 8, shift: -4, font: 28,
  tickText: (v) => snvTickLabels[snvTicks.indexOf(v)], plugins: [snvValueLabels],
});

// Variants per sample
addText(353.6, 2033, "Variants per sample", "font-size:20px;", "serif");
addText(353.6, 2058, "Median: 92", "font-size:14px;", "serif");
const perSample = [];
tmbLevels.forEach((total, level) => {
  for (let n = 0; n < tmbRuns[level]; n++) perSample.push(level);
});
const tmbPart = (list) => perSample.map((level) => list[level] || 0);
const tmbRest = perSample.map((level) =>
  tmbLevels[level] - (tmbNonsense[level] || 0) - (tmbSplice[level] || 0) - (tmbInFrame[level] || 0) - (tmbFsDel[level] || 0) - (tmbFsIns[level] || 0)
);
new Chart(makeCanvas(300, 2070, 730, 366), {
  type: "bar",
  data: {
    labels: perSample.map((l, i) => i),
    datasets: [
      { data: tmbRest, backgroundColor: classColors[0], order: 2 },
      { data: tmbPart(tmbNonsense), backgroundColor: classColors[1], order: 2 },
      { data: tmbPart(tmbFsDel), backgroundColor: classColors[2], order: 2 },
      { data: tmbPart(tmbSplice), backgroundColor: classColors[3], order: 2 },
      { data: tmbPart(tmbFsIns), backgroundColor: classColors[4], order: 2 },
      { data: tmbPart(tmbInFrame), backgroundColor: classColors[5], order: 2 },
      {
        type: "line",
        stack: "median",
        data: perSample.map((l, i) => (i < 494 ? tmbMedian : null)),
        borderColor: "#CC2266",
        borderWidth: 4,
        borderDash: [14, 16],
        pointRadius: 0,
        order: 1,
      },
    ],
  },
  options: {
    layout: { padding: { top: 15, right: 21, bottom: 8.3 } },
    datasets: { bar: { categoryPercentage: 1, barPercentage: 0.9 } },
    plugins: { blackAxis: { scale: "y", gap: 18, width: 4, tick: 12 } },
    scales: {
      x: { display: false, stacked: true, afterFit: pinH(0) },
      y: {
        stacked: true,
        min: 0,
        max: 2613,
        grid: noGrid,
        border: noAxisLine,
        afterBuildTicks: setTicks(tmbTicks),
        afterFit: pinW(78),
        ticks: { padding: 27, font: { family: "'Liberation Serif', serif", size: 21, style: "italic" }, callback: plainNumber },
      },
    },
  },
});

// Variant Classification summary, boxes are floating bars
addText(1227, 2033, "Variant Classification", "font-size:20px;", "serif");
addText(1227, 2057, "summary", "font-size:20px;", "serif");
const boxIds = boxQ1.map((v, i) => i);
new Chart(makeCanvas(1140, 2075, 530, 361), {
  type: "bar",
  data: {
    datasets: [
      {
        data: boxIds.map((i) => ({ x: i, y: [boxLow[i], boxHigh[i]] })),
        backgroundColor: boxStroke,
        barThickness: 4,
        grouped: false,
        order: 3,
      },
      {
        data: boxIds.map((i) => ({ x: i, y: [boxQ1[i], boxQ3[i]] })),
        backgroundColor: boxFill,
        borderColor: boxStroke,
        borderWidth: 4.5,
        borderSkipped: false,
        borderRadius: 2,
        barThickness: 40,
        grouped: false,
        order: 2,
      },
      {
        type: "line",
        showLine: false,
        data: boxIds.map((i) => ({ x: i, y: boxMedian[i] })),
        pointStyle: "line",
        pointRadius: 20,
        pointBorderWidth: 13,
        pointBorderColor: boxStroke,
        order: 1,
      },
    ],
  },
  options: {
    layout: { padding: { top: 10, right: 10, bottom: 4 } },
    plugins: { blackAxis: { scale: "y", width: 4, tick: 13 } },
    scales: {
      x: {
        type: "linear",
        offset: false,
        min: -0.861,
        max: 8.848,
        grid: { color: dashedGrid, drawTicks: false },
        border: { display: false, dash: [4, 5] },
        afterBuildTicks: setTicks(boxIds),
        afterFit: pinH(0),
        ticks: { display: false },
      },
      y: {
        min: -9,
        max: 216.4,
        grid: {
          drawTicks: false,
          color: (c) => (c.tick && c.tick.value === 138 ? clear : dashedGrid),
        },
        border: { display: false, dash: [3, 4] },
        afterBuildTicks: setTicks(boxTicks),
        afterFit: pinW(87),
        ticks: { padding: 23, font: { family: "'Liberation Serif', serif", size: 21, style: "italic" } },
      },
    },
  },
});
</script>
</body>
</html>
